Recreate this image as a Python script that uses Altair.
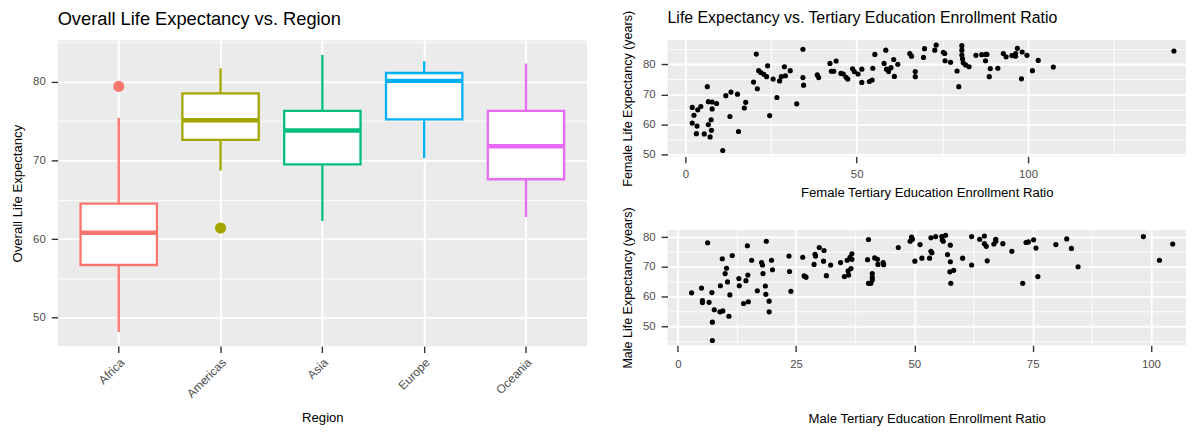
import altair as alt
import pandas as pd

FONT = "Liberation Sans"

# ---- Left panel: box plot summaries ----
regions = ["Africa", "Americas", "Asia", "Europe", "Oceania"]
region_colors = ["#F8766D", "#A3A500", "#00BF7D", "#00B0F6", "#E76BF3"]
whisker_low = [48.2, 68.7, 62.3, 70.3, 62.8]
q1 = [56.7, 72.6, 69.5, 75.2, 67.6]
median = [60.8, 75.1, 73.8, 80.1, 71.8]
q3 = [64.5, 78.5, 76.3, 81.1, 76.3]
whisker_high = [75.4, 81.7, 83.4, 82.6, 82.3]
outlier_region = ["Africa", "Americas"]
outlier_value = [79.4, 61.4]

# ---- Right panels: scatter points ----
female_ratio = [2.0, 2.0, 2.5, 3.2, 3.4, 3.6, 4.5, 5.5, 6.4, 6.7,
                6.7, 7.2, 7.6, 7.8, 7.8, 7.5, 9.1, 10.9, 11.8, 13.0,
                13.3, 15.2, 15.5, 17.2, 17.6, 19.9, 20.7, 21.0, 21.4, 22.0,
                22.9, 23.7, 24.0, 24.6, 25.6, 26.7, 27.5, 28.0, 28.9, 29.2,
                30.6, 32.5, 34.3, 34.3, 34.5, 38.5, 38.9, 42.2, 42.6, 43.3,
                44.0, 45.4, 46.1, 46.9, 47.4, 48.8, 49.3, 50.4, 51.5, 51.5,
                53.7, 54.5, 54.7, 55.3, 58.0, 58.5, 58.7, 59.3, 60.0, 60.8,
                61.0, 62.0, 65.5, 66.0, 67.1, 67.1, 69.5, 69.8, 72.8, 73.2,
                75.3, 75.7, 75.8, 77.4, 79.3, 79.8, 80.7, 80.7, 80.7, 80.9,
                81.1, 81.8, 82.8, 84.8, 86.5, 87.7, 87.6, 88.0, 88.7, 89.0,
                91.2, 92.8, 93.6, 95.3, 96.4, 96.9, 96.4, 98.1, 98.3, 99.7,
                101.3, 103.0, 107.4, 142.6]
female_le = [65.7, 60.5, 63.1, 57.0, 59.5, 64.9, 66.0, 56.9, 72.6, 67.6,
             60.0, 55.9, 58.1, 65.2, 67.5, 61.6, 67.0, 51.4, 69.6, 62.7,
             70.8, 70.1, 57.7, 65.5, 67.4, 74.1, 83.4, 71.9, 77.9, 77.3,
             76.7, 75.9, 79.5, 63.0, 75.1, 69.0, 74.5, 75.9, 79.2, 76.2,
             77.9, 66.9, 85.0, 75.6, 73.1, 76.5, 75.6, 80.3, 77.7, 77.7,
             81.1, 77.0, 76.8, 75.7, 75.1, 78.5, 77.6, 76.8, 78.4, 74.0,
             74.3, 74.8, 78.7, 83.3, 80.3, 84.7, 78.4, 77.6, 78.9, 81.6,
             76.0, 80.0, 83.6, 82.7, 77.6, 75.9, 82.3, 85.2, 84.7, 86.4,
             84.0, 83.6, 81.2, 80.7, 77.8, 72.6, 86.2, 84.7, 83.1, 81.8,
             80.5, 79.8, 79.2, 83.0, 83.2, 83.3, 81.2, 83.3, 75.9, 78.6,
             78.7, 83.6, 82.5, 82.9, 82.7, 85.3, 83.6, 75.2, 84.1, 83.0,
             77.9, 81.3, 79.1, 84.4]

male_ratio = [2.9, 5.0, 5.2, 5.2, 6.3, 6.6, 7.2, 7.3, 7.3, 7.7,
              8.9, 9.0, 9.4, 9.5, 10.0, 10.3, 10.5, 10.8, 11.0, 11.5,
              12.9, 13.0, 13.9, 14.4, 14.7, 14.8, 14.9, 15.6, 16.8, 17.7,
              17.9, 18.0, 18.5, 18.6, 18.7, 19.3, 19.3, 19.8, 20.0, 23.5,
              23.6, 23.9, 26.4, 26.7, 27.1, 28.8, 29.0, 29.1, 29.9, 30.8,
              30.9, 31.4, 32.3, 34.4, 35.2, 35.8, 36.0, 36.1, 36.4, 36.6,
              36.8, 36.8, 40.3, 40.1, 40.3, 40.8, 41.1, 41.1, 41.1, 41.6,
              42.2, 42.3, 43.4, 43.5, 46.6, 49.1, 49.4, 49.6, 50.1, 51.2,
              51.6, 53.2, 53.5, 53.7, 53.5, 54.5, 55.8, 55.9, 56.1, 56.6,
              57.0, 57.6, 57.6, 57.5, 57.7, 58.3, 60.2, 62.1, 62.1, 63.8,
              64.8, 64.8, 65.2, 65.4, 66.8, 67.2, 67.2, 68.7, 70.6, 72.9,
              73.6, 74.1, 75.2, 75.7, 76.1, 79.9, 82.2, 83.2, 84.6, 98.4,
              101.8, 104.6]
male_le = [61.2, 62.8, 58.6, 57.9, 78.1, 58.0, 61.3, 51.3, 45.1, 55.5,
           54.8, 63.6, 72.7, 55.1, 67.7, 69.5, 64.9, 53.3, 60.5, 73.8,
           66.0, 63.6, 57.6, 65.3, 77.1, 67.2, 58.2, 72.2, 61.9, 71.4,
           70.6, 67.7, 63.5, 60.7, 78.6, 54.8, 58.4, 72.2, 69.0, 73.6,
           68.4, 61.7, 73.2, 66.9, 66.5, 70.8, 74.2, 73.6, 76.5, 71.9,
           75.5, 67.0, 70.6, 71.4, 66.7, 72.2, 68.6, 67.2, 73.2, 69.4,
           74.4, 72.5, 79.2, 72.4, 64.4, 64.4, 67.7, 66.4, 65.5, 73.0,
           72.5, 70.8, 71.4, 70.7, 76.5, 78.6, 80.0, 79.3, 71.9, 77.5,
           72.9, 72.9, 75.2, 74.7, 79.8, 80.2, 80.2, 79.1, 78.6, 80.6,
           74.1, 77.3, 71.7, 68.3, 64.4, 68.8, 72.9, 80.2, 70.6, 79.3,
           80.4, 77.8, 76.9, 72.0, 77.7, 79.3, 78.6, 77.8, 75.2, 64.4,
           78.2, 78.4, 79.1, 76.3, 66.7, 77.5, 79.4, 76.2, 70.0, 80.2,
           72.2, 77.7]

box_df = pd.DataFrame({"region": regions, "lo": whisker_low, "q1": q1,
                       "med": median, "q3": q3, "hi": whisker_high})
out_df = pd.DataFrame({"region": outlier_region, "value": outlier_value})
fem_df = pd.DataFrame({"ratio": female_ratio, "le": female_le})
male_df = pd.DataFrame({"ratio": male_ratio, "le": male_le})


def minor(test, minor_val, major_val):
    return {"condition": {"test": test, "value": minor_val}, "value": major_val}


MAJ_W, MIN_W = 1.9, 0.9
YT = 12.6  # y-axis title size on the right
RW = 522   # right panel width

x_reg = alt.X("region:N", sort=regions,
              scale=alt.Scale(domain=regions, paddingInner=0, paddingOuter=0.1),
              axis=alt.Axis(title="Region", labelAngle=-45, labelAlign="right",
                            labelBaseline="top", grid=True, gridWidth=MAJ_W,
                            bandPosition=0.5, titlePadding=12.5, labelPadding=4,
                            labelFontSize=12))
y_scale = alt.Scale(domain=[46.39, 85.27], nice=False, zero=False)
y_axis = alt.Axis(title="Overall Life Expectancy",
                  values=[50, 55, 60, 65, 70, 75, 80, 85],
                  labelExpr="datum.value % 10 === 0 ? datum.label : ''",
                  gridWidth=minor("datum.value % 10 !== 0", MIN_W, MAJ_W),
                  tickOpacity=minor("datum.value % 10 !== 0", 0, 1),
                  titlePadding=8.5)
col = alt.Color("region:N", scale=alt.Scale(domain=regions, range=region_colors), legend=None)
stk = alt.Stroke("region:N", scale=alt.Scale(domain=regions, range=region_colors), legend=None)

base = alt.Chart(box_df)
whisk = base.mark_rule(strokeWidth=2.3, opacity=1).encode(
    x=x_reg, y=alt.Y("lo:Q", scale=y_scale, axis=y_axis), y2="hi:Q", color=col)
box = base.mark_bar(width={"band": 0.75}, fill="white", strokeWidth=2.3, opacity=1).encode(
    x=x_reg, y=alt.Y("q1:Q", scale=y_scale, axis=y_axis), y2="q3:Q", stroke=stk)
med = base.mark_tick(size=77, thickness=4.5, opacity=1).encode(
    x=x_reg, y=alt.Y("med:Q", scale=y_scale, axis=y_axis), color=col)
outl = alt.Chart(out_df).mark_circle(size=125, opacity=1).encode(
    x=x_reg, y=alt.Y("value:Q", scale=y_scale, axis=y_axis), color=col)

left = alt.layer(whisk, box, med, outl).properties(
    width=533, height=308,
    title=alt.TitleParams("Overall Life Expectancy vs. Region", anchor="start",
                          frame="group", fontSize=18.4, font=FONT,
                          fontWeight="normal", color="black", offset=12))

# ---- top right ----
top = alt.Chart(fem_df).mark_circle(size=27, color="black", opacity=1).encode(
    x=alt.X("ratio:Q", scale=alt.Scale(domain=[-5.22, -5.22 + RW / 3.449], nice=False, zero=False),
            axis=alt.Axis(title="Female Tertiary Education Enrollment Ratio",
                          values=[0, 25, 50, 75, 100, 125],
                          labelExpr="datum.value % 50 === 0 ? datum.label : ''",
                          gridWidth=minor("datum.value % 50 !== 0", MIN_W, MAJ_W),
                          tickOpacity=minor("datum.value % 50 !== 0", 0, 1),
                          titlePadding=6)),
    y=alt.Y("le:Q", scale=alt.Scale(domain=[49.44, 88.01], nice=False, zero=False),
            axis=alt.Axis(title="Female Life Expectancy (years)", titleFontSize=YT,
                          values=[50, 55, 60, 65, 70, 75, 80, 85],
                          labelExpr="datum.value % 10 === 0 ? datum.label : ''",
                          gridWidth=minor("datum.value % 10 !== 0", MIN_W, MAJ_W),
                          tickOpacity=minor("datum.value % 10 !== 0", 0, 1),
                          titlePadding=8)),
).properties(width=RW, height=117,
             title=alt.TitleParams("Life Expectancy vs. Tertiary Education Enrollment Ratio",
                                   anchor="start", frame="group", fontSize=16, font=FONT,
                                   fontWeight="normal", color="black", offset=0, dy=16))

bottom = alt.Chart(male_df).mark_circle(size=27, color="black", opacity=1).encode(
    x=alt.X("ratio:Q", scale=alt.Scale(domain=[-2.18, -2.18 + RW / 4.763], nice=False, zero=False),
            axis=alt.Axis(title="Male Tertiary Education Enrollment Ratio",
                          values=[0, 12.5, 25, 37.5, 50, 62.5, 75, 87.5, 100],
                          labelExpr="datum.value % 25 === 0 ? datum.label : ''",
                          gridWidth=minor("datum.value % 25 !== 0", MIN_W, MAJ_W),
                          tickOpacity=minor("datum.value % 25 !== 0", 0, 1),
                          labelPadding=7, titlePadding=43)),
    y=alt.Y("le:Q", scale=alt.Scale(domain=[43.55, 82.44], nice=False, zero=False),
            axis=alt.Axis(title="Male Life Expectancy (years)", titleFontSize=YT,
                          values=[45, 50, 55, 60, 65, 70, 75, 80],
                          labelExpr="datum.value % 10 === 0 ? datum.label : ''",
                          gridWidth=minor("datum.value % 10 !== 0", MIN_W, MAJ_W),
                          tickOpacity=minor("datum.value % 10 !== 0", 0, 1),
                          titlePadding=8)),
).properties(width=RW, height=116)

right = alt.vconcat(top, bottom, spacing=74, bounds="flush")

chart = alt.hconcat(left, right, spacing=34).properties(
    padding={"left": 2, "top": 0, "right": 0, "bottom": 0}
).configure_view(fill="#EBEBEB", stroke=None).configure_axis(
    domain=False, tickColor="#333333", tickWidth=1.4, tickSize=6.5,
    labelColor="#4D4D4D", labelFont=FONT, labelFontSize=11.5, labelPadding=6,
    titleFont=FONT, titleFontSize=13.2, titleFontWeight="normal", titleColor="black",
    gridColor="white"
)

chart.save("out.html", embed_options={"renderer": "svg", "actions": False})
